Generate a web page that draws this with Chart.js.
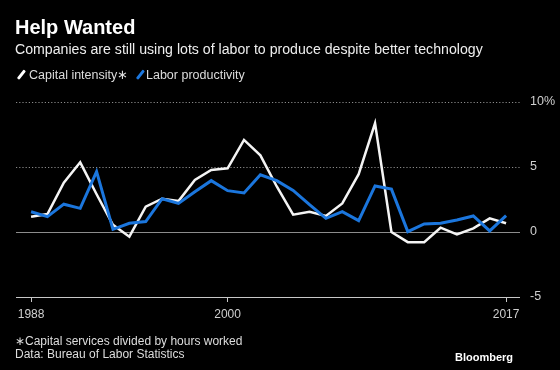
<!DOCTYPE html>
<html><head><meta charset="utf-8">
<script src="https://cdn.jsdelivr.net/npm/chart.js@4"></script>
<style>
html,body{margin:0;padding:0;background:#000;width:560px;height:370px;overflow:hidden;}
#wrap{position:relative;width:560px;height:370px;background:#000;}
canvas{position:absolute;left:0;top:0;}
.t{position:absolute;white-space:nowrap;color:#e0e0e0;font-family:'Liberation Sans Narrow','Liberation Sans',sans-serif;line-height:1;}
.sl{position:absolute;width:2.5px;height:11px;transform:rotate(38deg);border-radius:1px;}
</style></head><body>
<div id="wrap">
<canvas id="c" width="560" height="370"></canvas>
<div class="t" style="left:15px;top:16.5px;font-size:20px;font-weight:bold;color:#fff;font-family:'Liberation Sans',sans-serif;">Help Wanted</div>
<div class="t" style="left:15px;top:42px;font-size:14.15px;color:#eee;">Companies are still using lots of labor to produce despite better technology</div>
<div class="sl" style="left:20px;top:69px;background:#fff;"></div>
<div class="t" style="left:29px;top:69px;font-size:12.5px;color:#ddd;">Capital intensity∗</div>
<div class="sl" style="left:139px;top:69px;background:#1b76dd;"></div>
<div class="t" style="left:146px;top:69px;font-size:12.5px;color:#ddd;">Labor productivity</div>
<div class="t" style="left:15px;top:335px;font-size:12px;color:#ddd;">∗Capital services divided by hours worked</div>
<div class="t" style="left:15px;top:348px;font-size:12px;color:#ddd;">Data: Bureau of Labor Statistics</div>
<div class="t" style="left:455px;top:352px;font-size:11px;font-weight:bold;color:#fff;font-family:'Liberation Sans',sans-serif;">Bloomberg</div>
</div>
<script>
const years = [1988,1989,1990,1991,1992,1993,1994,1995,1996,1997,1998,1999,2000,2001,2002,2003,2004,2005,2006,2007,2008,2009,2010,2011,2012,2013,2014,2015,2016,2017];
const capitalIntensity = [1.18,1.38,3.8,5.36,2.9,0.55,-0.36,1.95,2.56,2.38,4.0,4.77,4.9,7.08,5.9,3.5,1.33,1.56,1.23,2.2,4.45,8.36,0.0,-0.78,-0.78,0.33,-0.18,0.28,1.05,0.67];
const laborProductivity = [1.56,1.18,2.14,1.82,4.64,0.2,0.67,0.8,2.56,2.2,3.1,3.95,3.18,3.0,4.4,3.95,3.2,2.1,1.05,1.56,0.87,3.54,3.3,0.03,0.62,0.67,0.92,1.23,0.08,1.26];
const xTickYears = [1988, 2000, 2017];
const yTickValues = [-5, 0, 5, 10];

const toPoints = arr => arr.map((v, i) => ({x: years[i], y: v}));

const gridPlugin = {
  id: 'customGrid',
  beforeDatasetsDraw(chart) {
    const {ctx, chartArea, scales} = chart;
    const ys = scales.y;
    ctx.save();
    yTickValues.forEach(v => {
      const py = Math.round(ys.getPixelForValue(v)) + 0.5;
      ctx.beginPath();
      ctx.lineWidth = 1;
      if (v > 0) { ctx.setLineDash([1.2, 2]); ctx.strokeStyle = '#8a8a8a'; }
      else if (v === 0) { ctx.setLineDash([]); ctx.strokeStyle = '#8c8c8c'; }
      else { ctx.setLineDash([]); ctx.strokeStyle = '#c8c8c8'; }
      ctx.moveTo(chartArea.left, py);
      ctx.lineTo(chartArea.right, py);
      ctx.stroke();
    });
    ctx.restore();
  }
};

new Chart(document.getElementById('c'), {
  type: 'line',
  data: {
    datasets: [
      { label: 'Capital intensity∗', data: toPoints(capitalIntensity), borderColor: '#f4f4f4', borderWidth: 2.5, pointRadius: 0, tension: 0, order: 1 },
      { label: 'Labor productivity', data: toPoints(laborProductivity), borderColor: '#1b76dd', borderWidth: 3, pointRadius: 0, tension: 0, order: 0 }
    ]
  },
  options: {
    responsive: false,
    animation: false,
    devicePixelRatio: 1,
    layout: { padding: { left: 16, right: 0, top: 102, bottom: 50 } },
    plugins: { legend: { display: false }, tooltip: { enabled: false } },
    scales: {
      x: {
        type: 'linear',
        min: 1987.08,
        max: 2017.85,
        afterBuildTicks: s => { s.ticks = xTickYears.map(v => ({value: v})); },
        afterFit: s => { s.height = 23; },
        grid: { drawOnChartArea: false, drawTicks: true, tickLength: 5, color: '#c8c8c8', lineWidth: 1 },
        border: { display: false },
        ticks: { color: '#cfcfcf', font: { size: 12, family: "'Liberation Sans Narrow','Liberation Sans',sans-serif" }, padding: 5, maxRotation: 0, autoSkip: false, callback: v => String(v) }
      },
      y: {
        position: 'right',
        min: -5,
        max: 10,
        afterBuildTicks: s => { s.ticks = yTickValues.map(v => ({value: v})); },
        afterFit: s => { s.width = 40; },
        grid: { display: false, drawTicks: false },
        border: { display: false },
        ticks: { color: '#cfcfcf', font: { size: 12.5, family: "'Liberation Sans Narrow','Liberation Sans',sans-serif" }, padding: 10, callback: v => v === 10 ? '10%' : String(v) }
      }
    }
  },
  plugins: [gridPlugin]
});
</script>
</body></html>
